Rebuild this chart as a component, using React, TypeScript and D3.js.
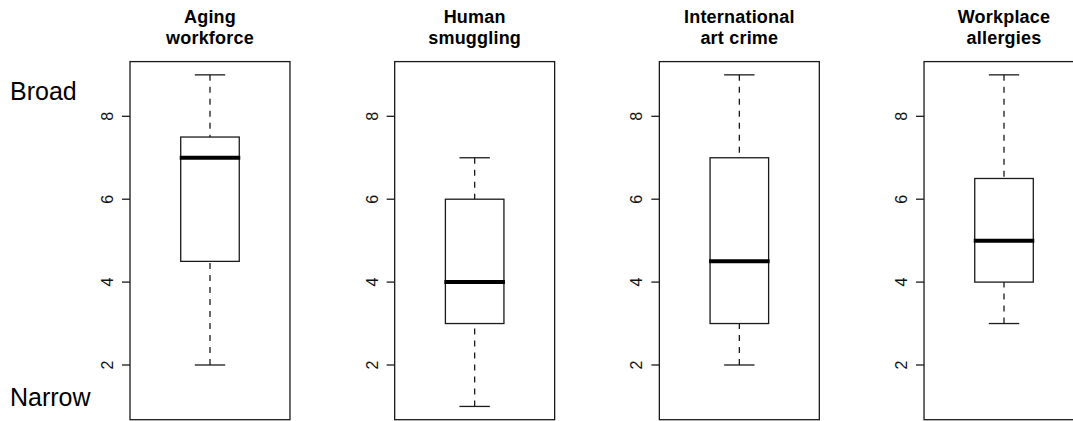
import React from 'react';
import * as d3 from 'd3';

const titles = ['Aging\nworkforce', 'Human\nsmuggling', 'International\nart crime', 'Workplace\nallergies'];
const mins = [2, 1, 2, 3];
const q1s = [4.5, 3, 3, 4];
const medians = [7, 4, 4.5, 5];
const q3s = [7.5, 6, 7, 6.5];
const maxs = [9, 7, 9, 9];
const yTicks = [2, 4, 6, 8];
const topLabel = 'Broad';
const bottomLabel = 'Narrow';

const W = 1073;
const H = 421;
const FONT = '"Liberation Sans", Arial, sans-serif';
const INK = '#1a1a1a';

const App = () => {
  const panelScale = d3.scaleBand<string>()
    .domain(titles)
    .range([130, 1084])
    .paddingInner(0.3956)
    .paddingOuter(0);

  const yScale = d3.scaleLinear().domain([0.68, 9.32]).range([419.7, 61.6]);

  return (
    <svg width={W} height={H} style={{ position: 'absolute', left: 0, top: 0, background: '#fff' }}>
      <rect x={0} y={0} width={W} height={H} fill="#fff" />
      <text x={10} y={100} fontFamily={FONT} fontSize={25} fill="#000">{topLabel}</text>
      <text x={10} y={406} fontFamily={FONT} fontSize={25} fill="#000">{bottomLabel}</text>
      {titles.map((t, i) => {
        const left = panelScale(t) ?? 0;
        const bw = panelScale.bandwidth();
        // one box per panel, x in [0.5, 1.5]
        const x = d3.scaleLinear().domain([0.5, 1.5]).range([left, left + bw]);
        const boxL = x(1 - 0.183);
        const boxR = x(1 + 0.183);
        const capL = x(1 - 0.095);
        const capR = x(1 + 0.095);
        const cx = x(1);
        const lines = t.split('\n');
        return (
          <g key={t}>
            {lines.map((ln, j) => (
              <text key={j} x={cx} y={22.5 + j * 21.5} textAnchor="middle" fontFamily={FONT}
                fontWeight="bold" fontSize={18} letterSpacing={0.2} fill="#000">{ln}</text>
            ))}
            <rect x={left} y={yScale(9.32)} width={bw} height={yScale(0.68) - yScale(9.32)}
              fill="none" stroke={INK} strokeWidth={1.3} />
            {yTicks.map((v) => (
              <g key={v}>
                <line x1={left - 8} x2={left} y1={yScale(v)} y2={yScale(v)} stroke={INK} strokeWidth={1.3} />
                <text transform={`translate(${left - 17},${yScale(v)}) rotate(-90)`} textAnchor="middle"
                  fontFamily={FONT} fontSize={16} fill="#111">{v}</text>
              </g>
            ))}
            <line x1={cx} x2={cx} y1={yScale(maxs[i])} y2={yScale(q3s[i])} stroke={INK}
              strokeWidth={1.3} strokeDasharray="6,6" />
            <line x1={cx} x2={cx} y1={yScale(mins[i])} y2={yScale(q1s[i])} stroke={INK}
              strokeWidth={1.3} strokeDasharray="6,6" />
            <line x1={capL} x2={capR} y1={yScale(maxs[i])} y2={yScale(maxs[i])} stroke={INK} strokeWidth={1.3} />
            <line x1={capL} x2={capR} y1={yScale(mins[i])} y2={yScale(mins[i])} stroke={INK} strokeWidth={1.3} />
            <rect x={boxL} y={yScale(q3s[i])} width={boxR - boxL} height={yScale(q1s[i]) - yScale(q3s[i])}
              fill="#fff" stroke={INK} strokeWidth={1.3} />
            <line x1={boxL - 1} x2={boxR + 1} y1={yScale(medians[i])} y2={yScale(medians[i])}
              stroke="#000" strokeWidth={4} />
          </g>
        );
      })}
    </svg>
  );
};

export default App;
